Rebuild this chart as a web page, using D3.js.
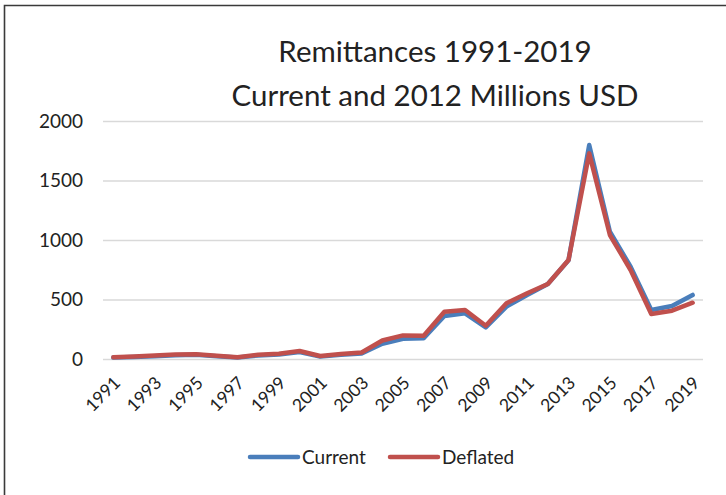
<!DOCTYPE html>
<html><head><meta charset="utf-8">
<script src="https://cdn.jsdelivr.net/npm/d3@7"></script>
<style>
html,body{margin:0;padding:0;background:#fff;}
svg{display:block;font-family:Lato,"Open Sans",sans-serif;}
</style></head>
<body>
<svg id="c" width="726" height="495"></svg>
<script>
const years = d3.range(1991, 2020).map(String);
const current = [12,17,24,32,35,24,12,30,38,58,20,36,47,128,170,175,361,384,265,440,538,630,830,1798,1070,776,412,445,538];
const deflated = [15,21,29,37,40,28,15,35,45,67,25,42,55,155,198,195,397,412,280,468,552,630,832,1728,1042,748,378,406,473];
const yTicks = [0,500,1000,1500,2000];
const xTickLabels = years.filter((d,i)=>i%2===0);
const seriesNames = ["Current","Deflated"];
const colors = ["#4a7ebb","#c0504d"];
const titleLines = ["Remittances 1991-2019","Current and 2012 Millions USD"];

const svg = d3.select("#c");
// frame
svg.append("path").attr("d","M4.5,495 L4.5,5.5 L726,5.5").attr("fill","none").attr("stroke","#3a3a3a").attr("stroke-width",1.6);

const x = d3.scaleBand().domain(years).range([103,703]).padding(0);
const y = d3.scaleLinear().domain([0,2000]).range([359,121]);
const cx = d => x(d) + x.bandwidth()/2;

// gridlines
const yAxis = d3.axisLeft(y).tickValues(yTicks).tickSize(-600).tickPadding(20).tickFormat(d3.format("d"));
const gy = svg.append("g").attr("transform","translate(103,0)").call(yAxis);
gy.select(".domain").remove();
gy.selectAll(".tick line").attr("stroke","#d9d9d9").attr("stroke-width",1.5);
gy.selectAll(".tick text").attr("fill","#222").attr("font-size",19).attr("font-family","Lato, 'Open Sans', sans-serif");

// x axis labels
const xAxis = d3.axisBottom(x).tickValues(xTickLabels).tickSize(0).tickPadding(0);
const gx = svg.append("g").attr("transform","translate(0,359)").call(xAxis);
gx.select(".domain").remove();
gx.selectAll(".tick text")
  .attr("fill","#222").attr("font-size",17.5).attr("font-family","Lato, 'Open Sans', sans-serif")
  .attr("text-anchor","end").attr("dy",null).attr("y",0)
  .attr("transform","translate(8,25) rotate(-45)");

// lines
const line = vals => d3.line().x((d,i)=>cx(years[i])).y(d=>y(d))(vals);
[current, deflated].forEach((vals,k)=>{
  svg.append("path").attr("d",line(vals)).attr("fill","none")
    .attr("stroke",colors[k]).attr("stroke-width",4.5)
    .attr("stroke-linejoin","round").attr("stroke-linecap","round");
});

// title
titleLines.forEach((t,i)=>{
  svg.append("text").attr("x",435).attr("y",[62,106][i]).attr("text-anchor","middle")
    .attr("font-size",29.5).attr("fill","#222").text(t);
});

// legend
const legX = [250,390];
seriesNames.forEach((n,k)=>{
  svg.append("line").attr("x1",legX[k]).attr("x2",legX[k]+48).attr("y1",457).attr("y2",457)
    .attr("stroke",colors[k]).attr("stroke-width",4.5).attr("stroke-linecap","round");
  svg.append("text").attr("x",legX[k]+52).attr("y",463.5).attr("font-size",19).attr("fill","#222").text(n);
});
</script>
</body></html>
